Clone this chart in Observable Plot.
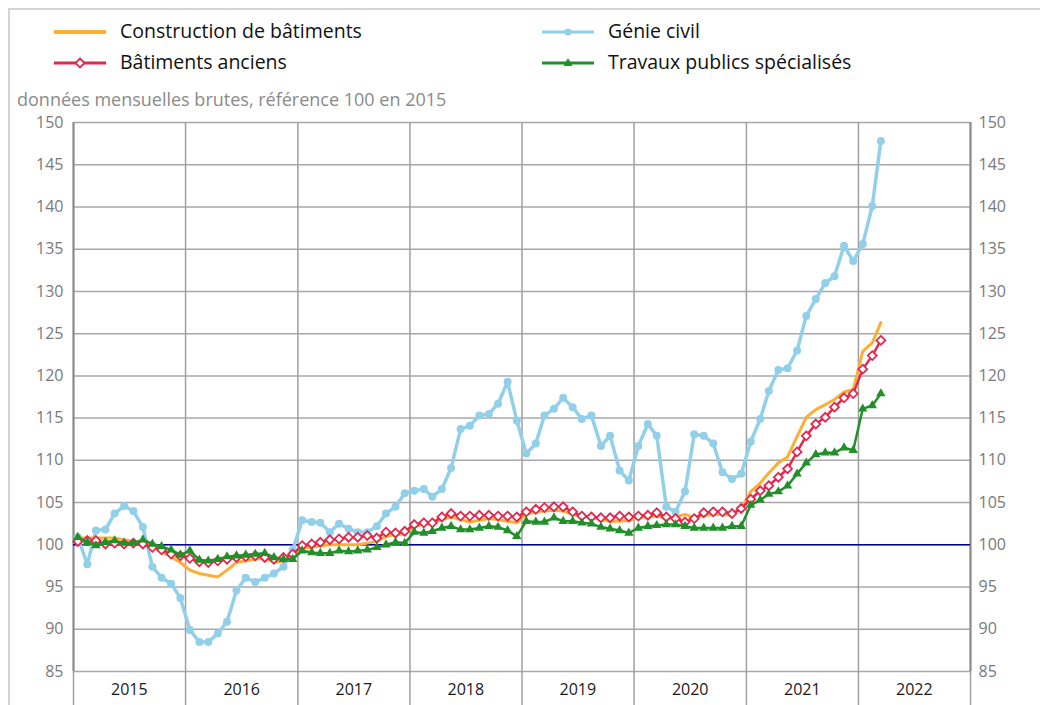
<!DOCTYPE html>
<html>
<head>
<meta charset="utf-8">
<script src="https://cdn.jsdelivr.net/npm/d3@7"></script>
<script src="https://cdn.jsdelivr.net/npm/@observablehq/plot@0.6"></script>
<style>
  html, body { margin: 0; padding: 0; background: #fff; width: 1040px; height: 705px; overflow: hidden; font-family: "Open Sans", sans-serif; }
  #frame { position: absolute; left: 8px; top: 8px; width: 1100px; height: 800px; border-top: 2px solid #d4d4d4; border-left: 2px solid #d4d4d4; }
  .leg { position: absolute; font-size: 19.5px; color: #111; line-height: 26px; white-space: nowrap; }
  .sw { position: absolute; }
  #subtitle { position: absolute; left: 17px; top: 87px; font-size: 18px; color: #8a8a8a; white-space: nowrap; line-height: 24px; }
  #chart { position: absolute; left: 0; top: 100px; }
</style>
</head>
<body>
<div id="frame"></div>
<div id="legend"></div>
<div id="subtitle">données mensuelles brutes, référence 100 en 2015</div>
<div id="chart"></div>
<script>
// ---- Data (monthly, Jan 2015 -> Mar 2022) ----
const startYear = 2015;
const seriesNames = ["Construction de bâtiments", "Génie civil", "Bâtiments anciens", "Travaux publics spécialisés"];
const seriesColors = ["#fbb034", "#92d0ea", "#e2284f", "#22902a"];

const construction = [
  100.8, 100.8, 100.8, 100.8, 100.8, 100.6, 100.4, 100.2, 99.8, 99.2, 98.6, 97.9,
  97.0, 96.6, 96.4, 96.2, 97.0, 97.9, 98.1, 98.3, 98.5, 97.9, 98.1, 98.8,
  99.6, 99.7, 99.9, 100.0, 100.0, 100.0, 100.0, 100.2, 100.4, 101.0, 101.2, 101.3,
  102.2, 102.4, 102.5, 103.0, 103.3, 103.0, 102.7, 102.9, 103.1, 103.0, 102.8, 102.6,
  103.6, 103.9, 104.0, 104.1, 104.0, 103.6, 103.4, 103.3, 103.0, 102.8, 102.8, 102.9,
  103.2, 103.3, 103.4, 103.2, 103.3, 103.6, 103.2, 103.5, 103.6, 103.6, 103.5, 104.3,
  106.3, 107.3, 108.5, 109.7, 110.4, 112.8, 115.1, 116.0, 116.6, 117.2, 118.1, 118.4,
  122.9, 123.9, 126.3
];
const genieCivil = [
  100.9, 97.7, 101.7, 101.8, 103.7, 104.6, 104.0, 102.1, 97.4, 96.1, 95.4, 93.7,
  89.9, 88.5, 88.5, 89.5, 90.9, 94.6, 96.1, 95.6, 96.1, 96.6, 97.4, 99.4,
  102.9, 102.7, 102.6, 101.5, 102.5, 101.9, 101.5, 101.5, 102.2, 103.7, 104.5, 106.1,
  106.4, 106.6, 105.7, 106.6, 109.1, 113.7, 114.1, 115.3, 115.5, 116.7, 119.3, 114.7,
  110.8, 112.0, 115.3, 116.1, 117.4, 116.3, 114.9, 115.3, 111.7, 112.9, 108.8, 107.6,
  111.7, 114.3, 112.9, 104.5, 103.9, 106.3, 113.1, 112.9, 112.0, 108.6, 107.8, 108.4,
  112.2, 114.9, 118.2, 120.7, 120.9, 123.0, 127.1, 129.1, 131.0, 131.8, 135.4, 133.6,
  135.6, 140.1, 147.8
];
const batimentsAnciens = [
  100.4, 100.5, 100.5, 100.1, 100.2, 100.1, 100.2, 100.1, 99.7, 99.4, 98.9, 98.7,
  98.4, 98.0, 97.9, 98.1, 98.3, 98.5, 98.6, 98.7, 98.5, 98.3, 98.5, 98.9,
  99.9, 100.1, 100.3, 100.6, 100.7, 100.9, 100.9, 101.1, 100.8, 101.5, 101.4, 101.6,
  102.4, 102.6, 102.6, 103.3, 103.7, 103.4, 103.4, 103.5, 103.5, 103.4, 103.4, 103.3,
  103.9, 104.2, 104.4, 104.5, 104.5, 103.9, 103.4, 103.3, 103.2, 103.2, 103.4, 103.3,
  103.4, 103.5, 103.8, 103.3, 103.1, 102.7, 103.1, 103.8, 103.9, 103.9, 103.7, 104.3,
  105.4, 106.4, 107.0, 108.0, 109.0, 111.0, 112.9, 114.3, 115.1, 116.3, 117.4, 117.9,
  120.8, 122.4, 124.2
];
const travauxPublics = [
  100.9, 100.3, 99.9, 100.3, 100.5, 100.2, 100.2, 100.6, 100.1, 99.8, 99.4, 98.8,
  99.3, 98.2, 98.1, 98.3, 98.6, 98.7, 98.8, 98.9, 99.0, 98.5, 98.3, 98.3,
  99.3, 99.1, 99.0, 99.0, 99.3, 99.2, 99.3, 99.4, 99.7, 100.0, 100.3, 100.2,
  101.5, 101.4, 101.6, 102.0, 102.2, 101.8, 101.8, 102.0, 102.2, 102.1, 101.7, 101.0,
  102.8, 102.7, 102.7, 103.2, 102.8, 102.8, 102.6, 102.5, 102.1, 101.9, 101.7, 101.4,
  102.0, 102.2, 102.3, 102.4, 102.4, 102.2, 102.0, 102.0, 102.0, 102.0, 102.2, 102.2,
  104.7, 105.3, 106.0, 106.3, 107.0, 108.4, 109.7, 110.7, 110.9, 110.9, 111.5, 111.2,
  116.1, 116.5, 117.9
];
const yearLabels = [2015, 2016, 2017, 2018, 2019, 2020, 2021, 2022];
const yTicks = [85, 90, 95, 100, 105, 110, 115, 120, 125, 130, 135, 140, 145, 150];
const reference = 100;

// ---- Build table ----
const monthDate = i => new Date(Date.UTC(startYear + Math.floor(i / 12), i % 12, 15));
const toRows = (arr, name) => arr.map((v, i) => ({date: monthDate(i), value: v, series: name}));
const rowsC = toRows(construction, seriesNames[0]);
const rowsG = toRows(genieCivil, seriesNames[1]);
const rowsA = toRows(batimentsAnciens, seriesNames[2]);
const rowsT = toRows(travauxPublics, seriesNames[3]);

const yearStarts = [...yearLabels, yearLabels[yearLabels.length - 1] + 1].map(y => new Date(Date.UTC(y, 0, 1)));
const yearMids = yearLabels.map(y => new Date(Date.UTC(y, 6, 2)));

// ---- Legend ----
const legend = document.getElementById("legend");
const legendItems = [
  {name: seriesNames[0], color: seriesColors[0], marker: null, x: 54, y: 31},
  {name: seriesNames[1], color: seriesColors[1], marker: "circle", x: 542, y: 31},
  {name: seriesNames[2], color: seriesColors[2], marker: "diamond", x: 54, y: 62},
  {name: seriesNames[3], color: seriesColors[3], marker: "triangle", x: 542, y: 62}
];
for (const it of legendItems) {
  const w = 52;
  let mk = "";
  if (it.marker === "circle") mk = `<circle cx="${w/2}" cy="8" r="3.5" fill="${it.color}"/>`;
  if (it.marker === "diamond") mk = `<path d="M${w/2} 3.5 L${w/2+4.5} 8 L${w/2} 12.5 L${w/2-4.5} 8 Z" fill="#fff" stroke="${it.color}" stroke-width="1.8"/>`;
  if (it.marker === "triangle") mk = `<path d="M${w/2} 3 L${w/2+4.5} 11 L${w/2-4.5} 11 Z" fill="${it.color}"/>`;
  const sw = document.createElement("div");
  sw.className = "sw";
  sw.style.left = it.x + "px";
  sw.style.top = (it.y - 8) + "px";
  sw.innerHTML = `<svg width="${w}" height="16"><line x1="0" x2="${w}" y1="8" y2="8" stroke="${it.color}" stroke-width="${it.marker ? 3 : 4}"/>${mk}</svg>`;
  legend.appendChild(sw);
  const t = document.createElement("div");
  t.className = "leg";
  t.style.left = (it.x + 66) + "px";
  t.style.top = (it.y - 13) + "px";
  t.textContent = it.name;
  legend.appendChild(t);
}

// ---- Chart ----
const chart = Plot.plot({
  width: 1040,
  height: 605,
  marginLeft: 73,
  marginRight: 70,
  marginTop: 22,
  marginBottom: 34,
  style: {fontFamily: "Open Sans, sans-serif", fontSize: "16px", background: "transparent", overflow: "visible"},
  x: {type: "utc", domain: [yearStarts[0], yearStarts[yearStarts.length - 1]]},
  y: {domain: [85, 150]},
  marks: [
    Plot.gridY(yTicks, {stroke: "#a8a8a8", strokeOpacity: 1, strokeWidth: 1.5}),
    Plot.gridX(yearStarts, {stroke: "#a0a0a0", strokeOpacity: 1, strokeWidth: 1.5}),
    Plot.axisX(yearStarts, {tickSize: 34, tickFormat: () => "", stroke: "#a0a0a0", strokeWidth: 1.5}),
    Plot.axisX(yearMids, {tickSize: 0, tickPadding: 12, tickFormat: d => String(d.getUTCFullYear()), fill: "#1a1a1a", fontSize: 16, label: null}),
    Plot.axisY(yTicks, {anchor: "left", tickSize: 0, tickPadding: 10, fill: "#7a7a7a", fontSize: 16, label: null}),
    Plot.axisY(yTicks, {anchor: "right", tickSize: 0, tickPadding: 8, fill: "#7a7a7a", fontSize: 16, label: null}),
    Plot.ruleX([yearStarts[0], yearStarts[yearStarts.length - 1]], {stroke: "#8a8a8a", strokeWidth: 2}),
    Plot.ruleY([reference], {stroke: "#00008b", strokeWidth: 1.5}),
    Plot.line(rowsG, {x: "date", y: "value", stroke: seriesColors[1], strokeWidth: 3.5}),
    Plot.dot(rowsG, {x: "date", y: "value", fill: seriesColors[1], r: 4, symbol: "circle"}),
    Plot.line(rowsC, {x: "date", y: "value", stroke: seriesColors[0], strokeWidth: 3}),
    Plot.line(rowsA, {x: "date", y: "value", stroke: seriesColors[2], strokeWidth: 2.5}),
    Plot.dot(rowsA, {x: "date", y: "value", fill: "#fff", stroke: seriesColors[2], strokeWidth: 1.8, r: 4, symbol: "diamond2"}),
    Plot.line(rowsT, {x: "date", y: "value", stroke: seriesColors[3], strokeWidth: 2.5}),
    Plot.dot(rowsT, {x: "date", y: "value", fill: seriesColors[3], r: 4.5, symbol: "triangle2"})
  ]
});
document.getElementById("chart").appendChild(chart);
</script>
</body>
</html>
